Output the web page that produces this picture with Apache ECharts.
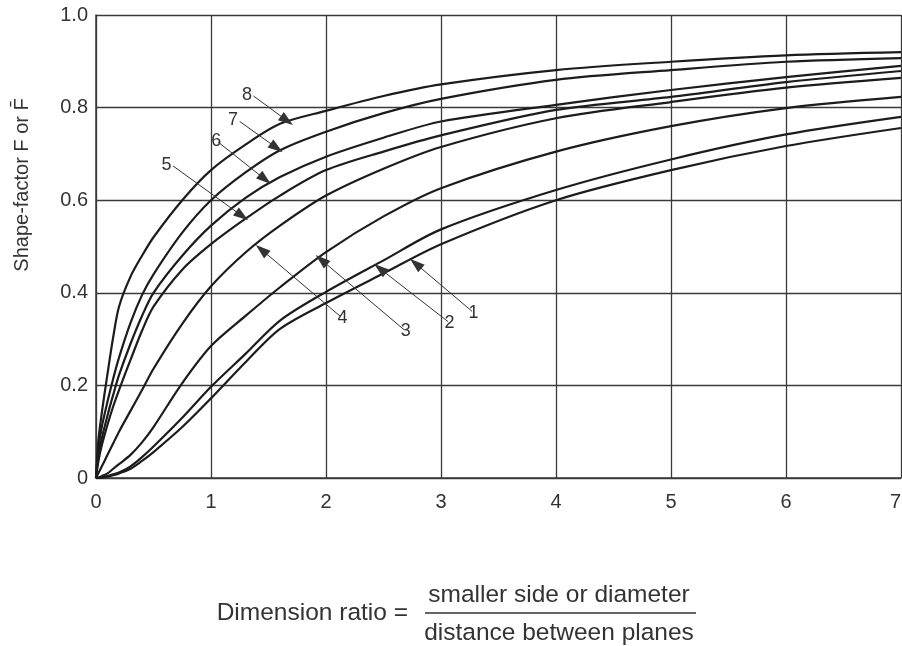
<!DOCTYPE html>
<html>
<head>
<meta charset="utf-8">
<script src="https://cdn.jsdelivr.net/npm/echarts@6/dist/echarts.min.js"></script>
<style>
  html, body { margin: 0; padding: 0; background: #fff; }
  #chart { width: 902px; height: 646px; }
</style>
</head>
<body>
<div id="chart"></div>
<script>
// Dimension ratio values at which each curve was read
const ratios = [0, 0.02, 0.05, 0.1, 0.15, 0.2, 0.3, 0.4, 0.5, 0.75, 1, 1.3, 1.6, 2, 2.5, 3, 4, 5, 6, 7];

// Shape-factor readings, curves 1..8
const curve1 = [0, 0, 0.001, 0.003, 0.006, 0.01, 0.02, 0.037, 0.056, 0.11, 0.172, 0.25, 0.322, 0.378, 0.442, 0.505, 0.60, 0.665, 0.717, 0.756];
const curve2 = [0, 0, 0.001, 0.004, 0.008, 0.012, 0.025, 0.045, 0.068, 0.13, 0.197, 0.268, 0.34, 0.402, 0.47, 0.537, 0.622, 0.688, 0.742, 0.78];
const curve3 = [0, 0.001, 0.004, 0.01, 0.02, 0.03, 0.05, 0.077, 0.11, 0.205, 0.285, 0.35, 0.412, 0.488, 0.565, 0.626, 0.705, 0.76, 0.799, 0.823];
const curve4 = [0, 0.01, 0.025, 0.05, 0.075, 0.1, 0.145, 0.19, 0.236, 0.333, 0.414, 0.487, 0.545, 0.61, 0.668, 0.715, 0.777, 0.812, 0.843, 0.864];
const curve5 = [0, 0.035, 0.07, 0.115, 0.155, 0.19, 0.255, 0.318, 0.37, 0.45, 0.505, 0.56, 0.61, 0.665, 0.705, 0.74, 0.795, 0.823, 0.855, 0.879];
const curve6 = [0, 0.045, 0.085, 0.135, 0.18, 0.222, 0.29, 0.35, 0.40, 0.48, 0.545, 0.605, 0.65, 0.694, 0.735, 0.77, 0.806, 0.838, 0.866, 0.89];
const curve7 = [0, 0.06, 0.11, 0.165, 0.215, 0.26, 0.335, 0.395, 0.44, 0.53, 0.60, 0.66, 0.708, 0.748, 0.788, 0.819, 0.86, 0.881, 0.899, 0.907];
const curve8 = [0, 0.08, 0.14, 0.225, 0.305, 0.37, 0.435, 0.48, 0.52, 0.6, 0.665, 0.72, 0.765, 0.793, 0.825, 0.85, 0.881, 0.899, 0.913, 0.92];

const curveNames = ['1', '2', '3', '4', '5', '6', '7', '8'];
const curves = [curve1, curve2, curve3, curve4, curve5, curve6, curve7, curve8];

const xTicks = ['0', '1', '2', '3', '4', '5', '6', '7'];
const yTicks = ['0', '0.2', '0.4', '0.6', '0.8', '1.0'];

// Numbered leaders: label, where the leader starts, where the arrow points
const leaderLabels = ['8', '7', '6', '5', '4', '3', '2', '1'];
const leaderFrom = [[1.37, 0.825], [1.25, 0.77], [1.06, 0.726], [0.67, 0.674], [2.13, 0.348], [2.68, 0.32], [3.06, 0.338], [3.27, 0.36]];
const leaderTo = [[1.66, 0.772], [1.57, 0.713], [1.47, 0.645], [1.27, 0.566], [1.44, 0.493], [1.96, 0.471], [2.47, 0.452], [2.78, 0.463]];

const FONT = '"Liberation Sans", Arial, sans-serif';
const INK = '#1c1c1c';
const GRID = '#3a3a3a';

const chart = echarts.init(document.getElementById('chart'));

const series = curves.map((vals, i) => ({
    name: curveNames[i],
    type: 'line',
    data: ratios.map((x, j) => [x, vals[j]]),
    showSymbol: false,
    smooth: 0.3,
    lineStyle: { color: INK, width: 2.2 },
    z: 3
}));

// leaders are drawn as a mark line on an empty series
series.push({
    type: 'line',
    data: [],
    silent: true,
    markLine: {
        silent: true,
        symbol: ['none', 'triangle'],
        symbolSize: [10, 15],
        lineStyle: { color: '#333', width: 1, type: 'solid' },
        itemStyle: { color: '#1c1c1c' },
        label: {
            show: true,
            position: 'start',
            formatter: '{b}',
            fontFamily: FONT,
            fontSize: 18,
            color: '#333',
            distance: 2
        },
        data: leaderLabels.map((lab, i) => [
            { name: lab, coord: leaderFrom[i] },
            { coord: leaderTo[i] }
        ])
    }
});

const option = {
    animation: false,
    backgroundColor: '#fff',
    grid: { left: 96, right: 1, top: 15, bottom: 168, containLabel: false, outerBoundsMode: 'none' },
    xAxis: {
        type: 'value',
        min: 0,
        max: 7,
        interval: 1,
        axisLine: { show: true, lineStyle: { color: GRID, width: 1.5 } },
        axisTick: { show: false },
        splitLine: { show: true, lineStyle: { color: GRID, width: 1.3 } },
        axisLabel: {
            margin: 14,
            fontFamily: FONT,
            fontSize: 20,
            color: '#333',
            alignMaxLabel: 'right',
            formatter: v => xTicks[Math.round(v)]
        }
    },
    yAxis: {
        type: 'value',
        min: 0,
        max: 1,
        interval: 0.2,
        axisLine: { show: true, lineStyle: { color: GRID, width: 1.5 } },
        axisTick: { show: false },
        splitLine: { show: true, lineStyle: { color: GRID, width: 1.3 } },
        axisLabel: {
            margin: 8,
            fontFamily: FONT,
            fontSize: 20,
            color: '#333',
            formatter: v => yTicks[Math.round(v / 0.2)]
        }
    },
    graphic: [
        {
            type: 'text',
            x: 22,
            y: 185,
            rotation: Math.PI / 2,
            style: {
                text: 'Shape-factor F or F\u0304',
                fontFamily: FONT,
                fontSize: 20,
                fill: '#333',
                textAlign: 'center',
                textVerticalAlign: 'middle'
            }
        },
        {
            type: 'text',
            x: 408,
            y: 613,
            style: {
                text: 'Dimension ratio =',
                fontFamily: FONT,
                fontSize: 24.5,
                fill: '#333',
                textAlign: 'right',
                textVerticalAlign: 'middle'
            }
        },
        {
            type: 'text',
            x: 559,
            y: 595,
            style: {
                text: 'smaller side or diameter',
                fontFamily: FONT,
                fontSize: 24.5,
                fill: '#333',
                textAlign: 'center',
                textVerticalAlign: 'middle'
            }
        },
        {
            type: 'line',
            shape: { x1: 425, y1: 613, x2: 696, y2: 613 },
            style: { stroke: '#333', lineWidth: 1.5 }
        },
        {
            type: 'text',
            x: 559,
            y: 633,
            style: {
                text: 'distance between planes',
                fontFamily: FONT,
                fontSize: 24.5,
                fill: '#333',
                textAlign: 'center',
                textVerticalAlign: 'middle'
            }
        }
    ],
    series: series
};

chart.setOption(option);
</script>
</body>
</html>
